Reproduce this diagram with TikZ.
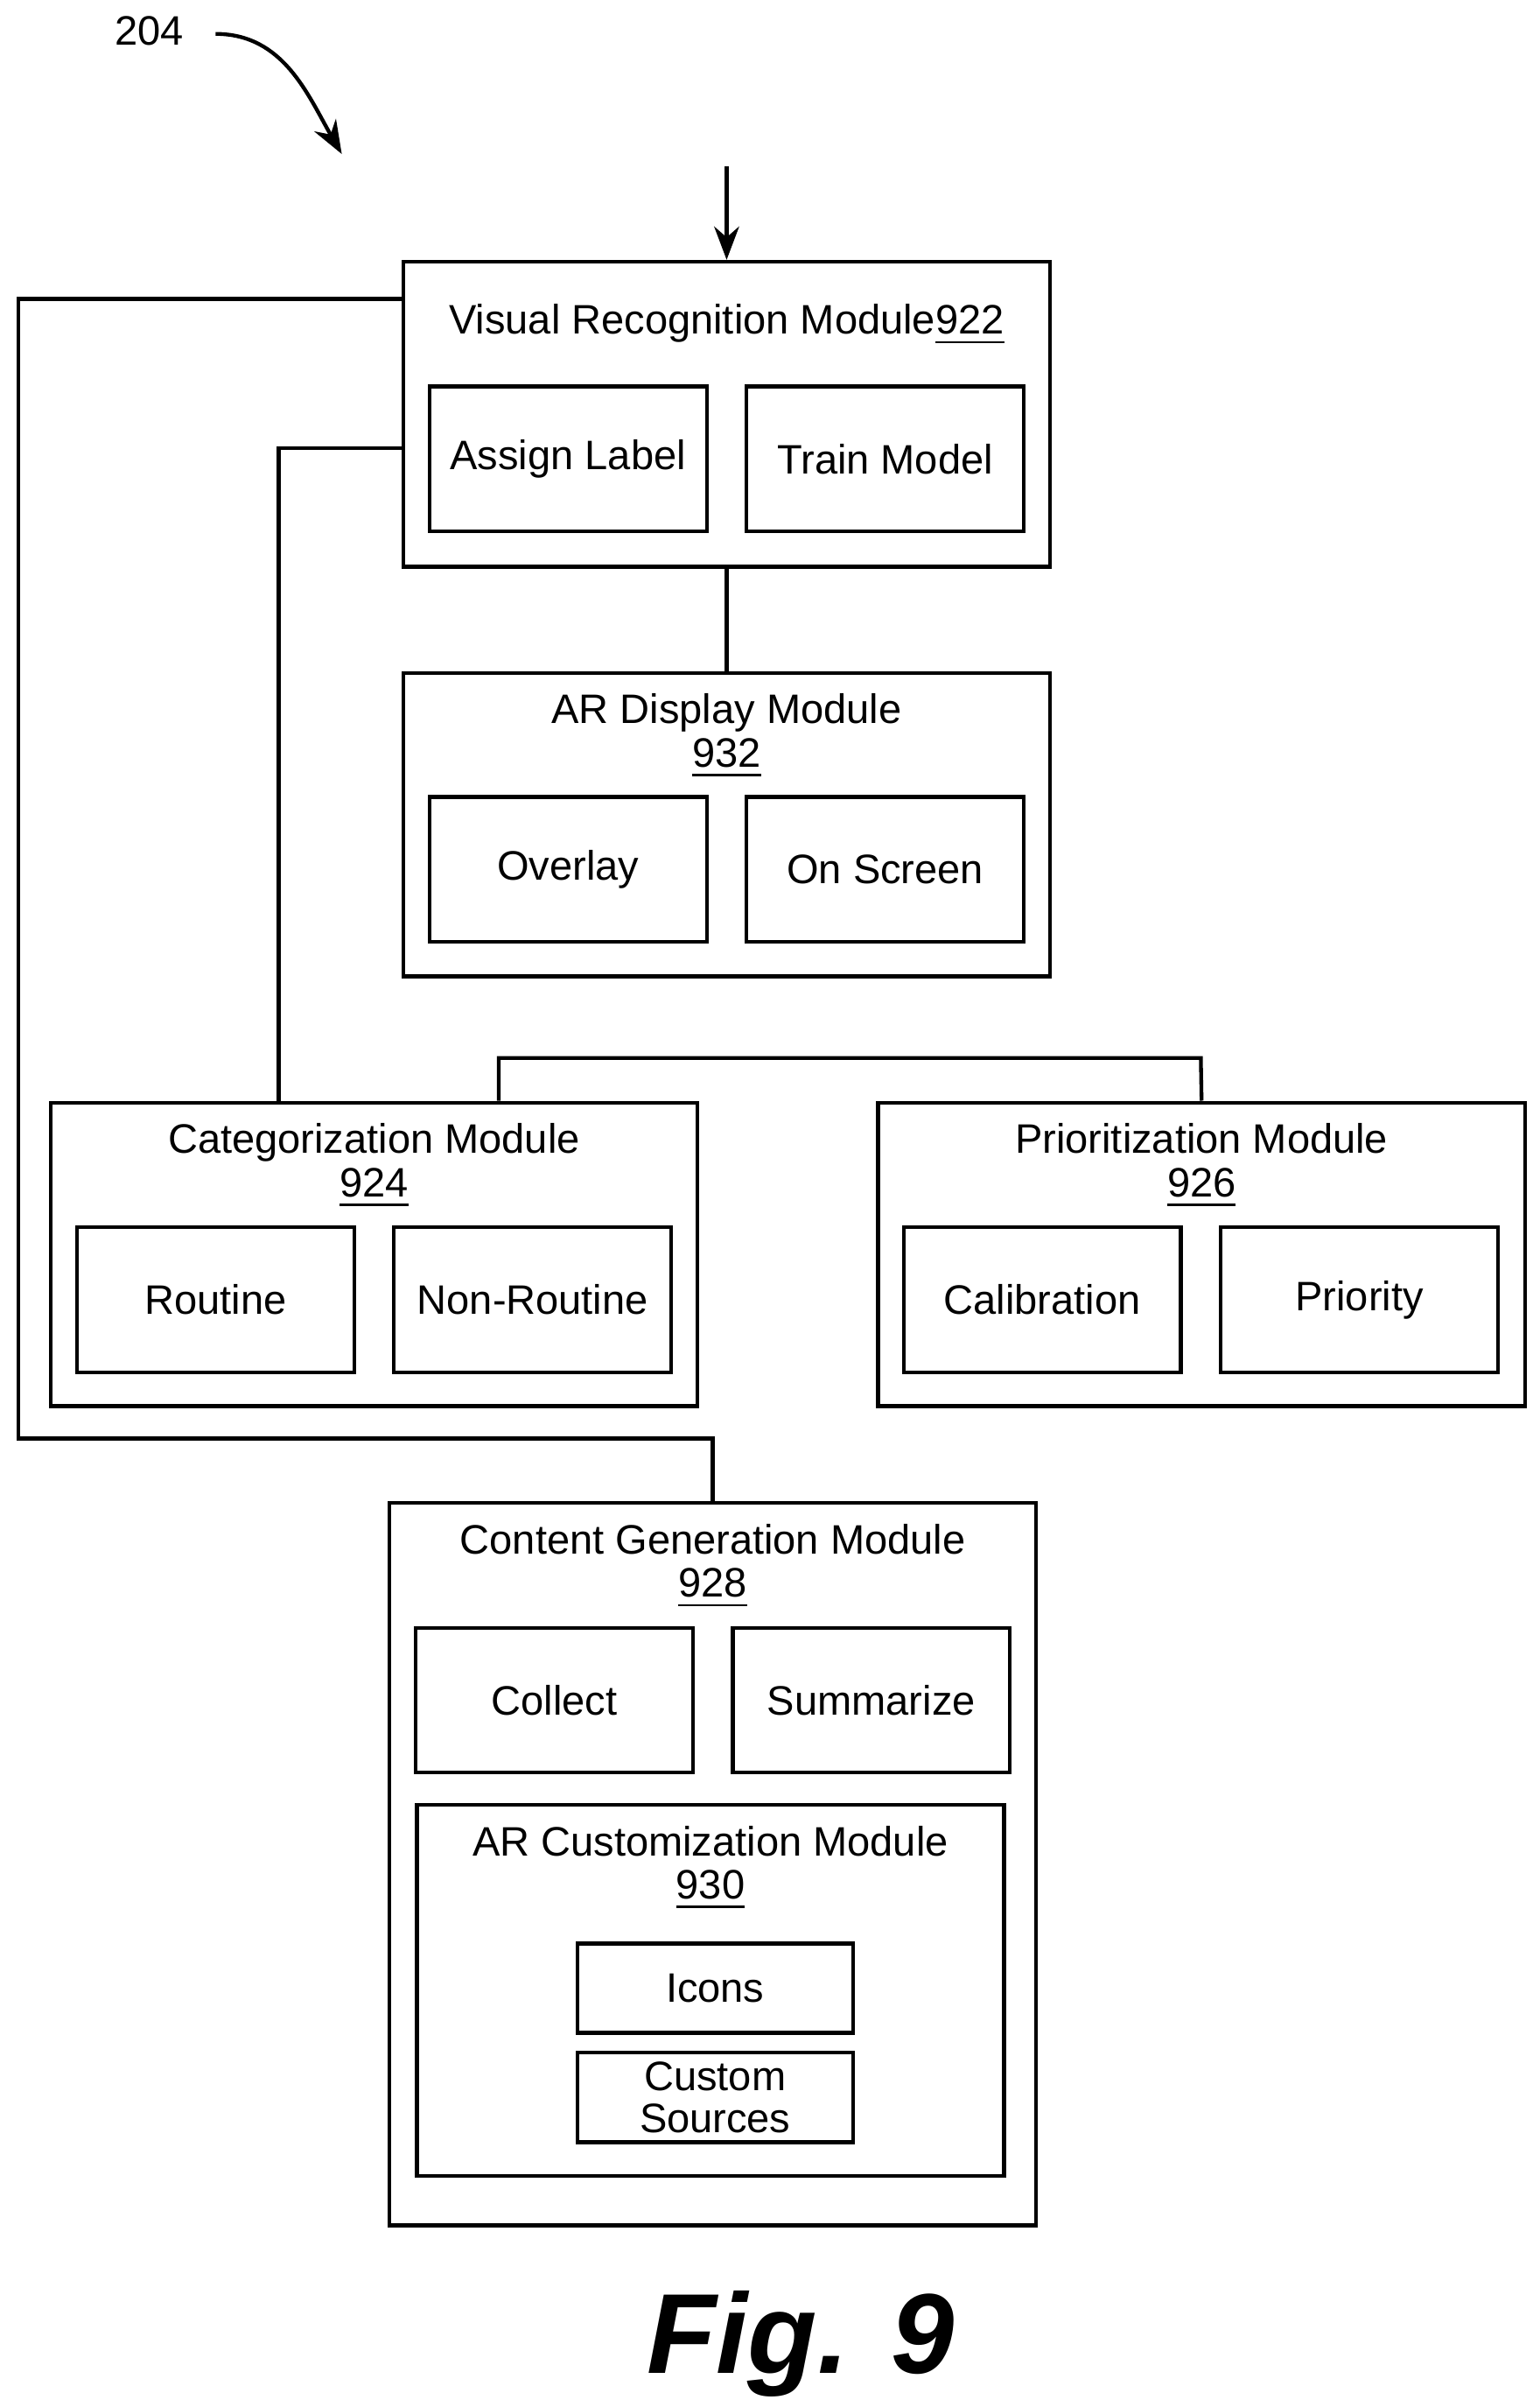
\documentclass[tikz,border=0pt]{standalone}
\usepackage{fontspec}
\setmainfont{Liberation Sans}
\usetikzlibrary{arrows.meta}
\begin{document}
\begin{tikzpicture}[x=0.01cm, y=-0.01cm, line width=0.7pt, >=Stealth,
        every node/.style = {font=\fontsize{7.6}{9}\selectfont},
        module/.style  = {draw, rectangle, inner sep=0pt, minimum width=4.2cm},
        part/.style    = {draw, rectangle, inner sep=0pt, minimum width=1.8cm, minimum height=0.94cm, align=center},
        small/.style   = {draw, rectangle, inner sep=0pt, minimum width=1.79cm, minimum height=0.58cm, align=center, text depth=0pt}]
    \useasboundingbox (0,0) rectangle (1000,1563);

    % reference label
    \node (ref) at (97,20) {204};
    \coordinate (refend) at (222,100);
    \draw[->] (140,22) to[out=0, in=120] (refend);

    % visual recognition module
    \coordinate (in) at (472,108);
    \node[module, minimum height=1.98cm] (vrm) at (472,269) {};
    \node (vrmt) at (472,211) {Visual Recognition Module\\[-1pt]\underline{922}};
    \node[module, draw=none] at (472,211) {};
    \node[part] (vrm1) at (369,298) {Assign Label};
    \node[part] (vrm2) at (575,298) {Train Model};
    \draw[->] (in) -- (vrm.north);

    % AR display module
    \node[module, minimum height=1.97cm] (ard) at (472,535.5) {};
    \node[align=center] (ardt) at (472,478) {AR Display Module\\[-1pt]\underline{932}};
    \node[part] (ard1) at (369,564.5) {Overlay};
    \node[part] (ard2) at (575,564.5) {On Screen};
    \draw (vrm.south) -- (ard.north);

    % categorization and prioritization
    \node[module, minimum height=1.97cm] (cat) at (243,814.5) {};
    \node[align=center] (catt) at (243,757) {Categorization Module\\[-1pt]\underline{924}};
    \node[part] (cat1) at (140,844) {Routine};
    \node[part] (cat2) at (346,844) {Non-Routine};

    \node[module, minimum height=1.97cm] (pri) at (780.5,814.5) {};
    \node[align=center] (prit) at (780.5,757) {Prioritization Module\\[-1pt]\underline{926}};
    \node[part] (pri1) at (677,844) {Calibration};
    \node[part] (pri2) at (883,844) {Priority};

    \draw (cat.north -| 324,0) |- (780,687) -- (pri.north);
    \draw (vrm.west |- 0,291) -| (cat.north -| 181,0);

    % content generation module
    \node[module, minimum height=4.69cm] (cgm) at (463,1210.5) {};
    \node[align=center] (cgmt) at (463,1017) {Content Generation Module\\[-1pt]\underline{928}};
    \node[part] (cgm1) at (360,1104) {Collect};
    \node[part] (cgm2) at (566,1104) {Summarize};
    \node[draw, rectangle, minimum width=3.81cm, minimum height=2.41cm] (arc) at (461.5,1292.5) {};
    \node[align=center] (arct) at (461.5,1213) {AR Customization Module\\[-1pt]\underline{930}};
    \node[small] (arc1) at (464.5,1291) {Icons};
    \node[small, font=\fontsize{7.6}{7.8}\selectfont] (arc2) at (464.5,1362) {Custom\\Sources};

    \draw (vrm.west |- 0,194) -| (12,934) -| (cgm.north);

    % figure label
    \node[font=\fontsize{21}{24}\selectfont\bfseries\itshape] (fig) at (520,1522) {Fig. 9};
\end{tikzpicture}
\end{document}
